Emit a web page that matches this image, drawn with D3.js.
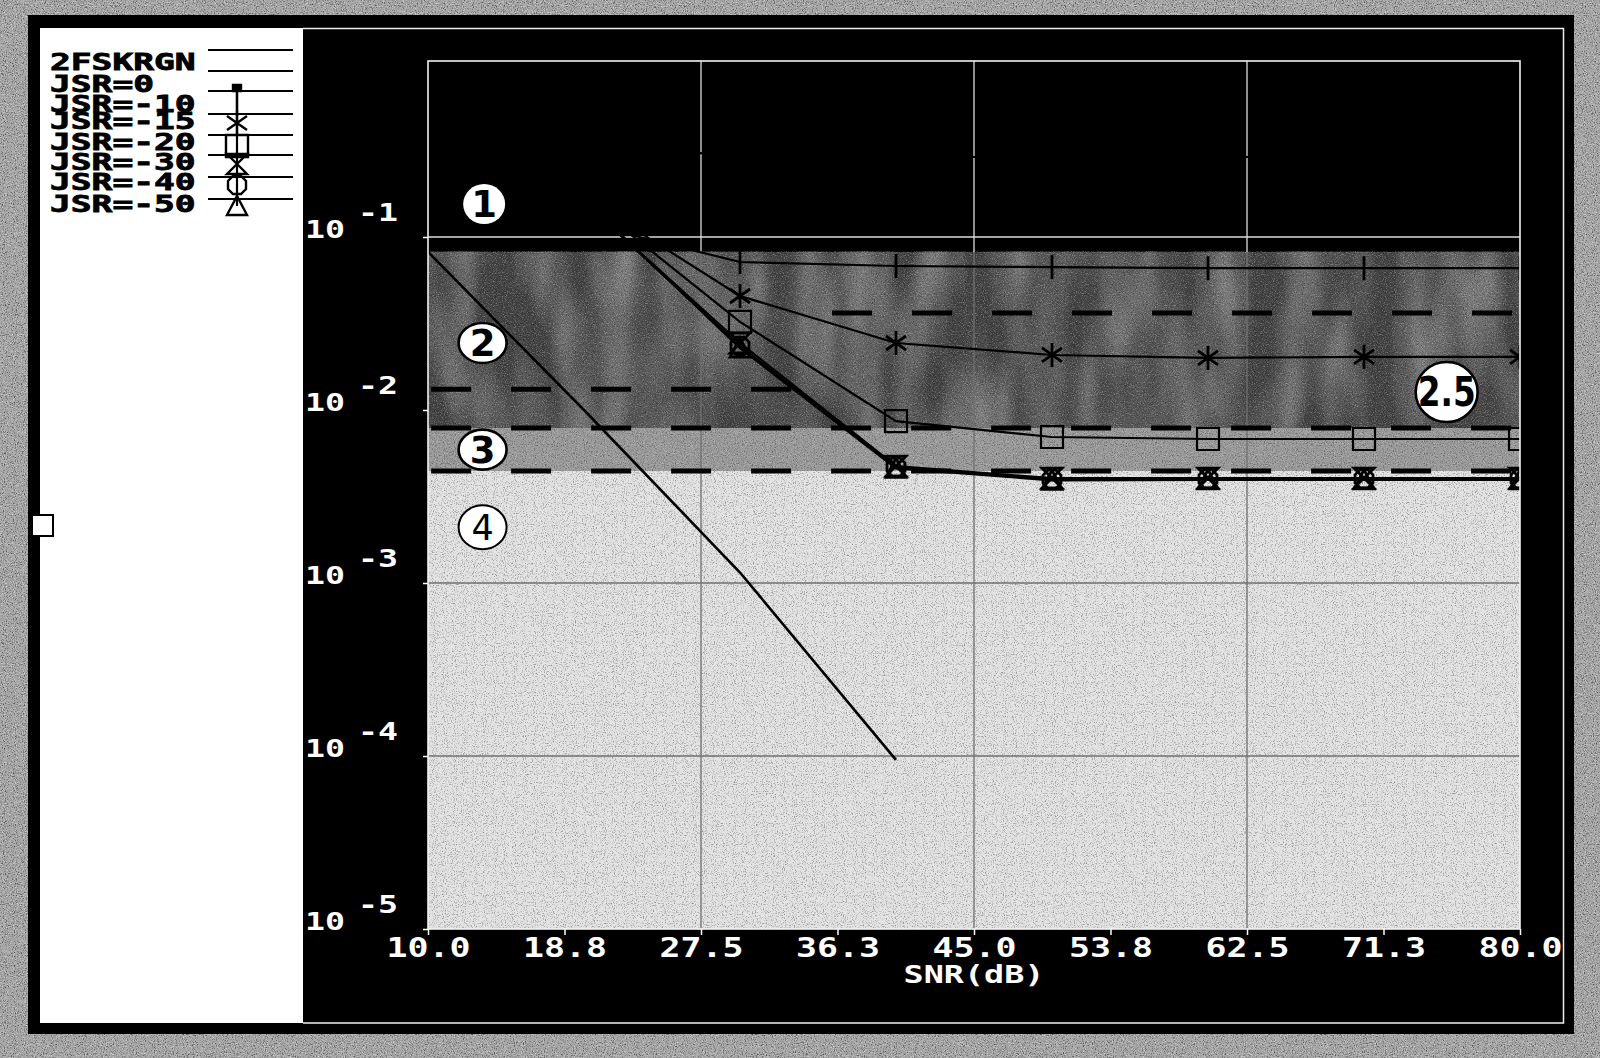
<!DOCTYPE html>
<html>
<head>
<meta charset="utf-8">
<script src="https://cdn.jsdelivr.net/npm/d3@7"></script>
<style>
html, body { margin: 0; padding: 0; background: #a6a6a6; }
svg { display: block; }
</style>
</head>
<body>
<script>
// ---- values ----
var snrTheory = [10, 20, 30, 40];
var berTheory = [0.082, 0.010, 0.00115, 0.000095];

var snrJam = [20, 30, 40, 50, 60, 70, 80];
var berJsr0  = [0.32, 0.30, 0.29, 0.29, 0.29, 0.29, 0.29];
var berJsr10 = [0.12, 0.0717, 0.068, 0.067, 0.066, 0.066, 0.066];
var berJsr15 = [0.17, 0.0456, 0.0244, 0.0208, 0.0200, 0.0203, 0.0203];
var berJsr20 = [0.17, 0.0323, 0.00863, 0.00698, 0.00680, 0.00680, 0.00680];
var berJsr30 = [0.16, 0.0244, 0.00474, 0.00404, 0.00404, 0.00404, 0.00404];
var berJsr40 = [0.16, 0.0234, 0.00468, 0.00398, 0.00400, 0.00400, 0.00400];
var berJsr50 = [0.165, 0.0228, 0.00460, 0.00392, 0.00395, 0.00395, 0.00395];

var legendNames = ["2FSKRGN", "JSR=0", "JSR=-10", "JSR=-15", "JSR=-20", "JSR=-30", "JSR=-40", "JSR=-50"];
var legendMarks = ["none", "dot", "bar", "star", "square", "hourglass", "diamond", "triangle"];

var xTicks = [10, 18.75, 27.5, 36.25, 45, 53.75, 62.5, 71.25, 80];
var xTickLabels = ["10.0", "18.8", "27.5", "36.3", "45.0", "53.8", "62.5", "71.3", "80.0"];
var yTicks = [1e-1, 1e-2, 1e-3, 1e-4, 1e-5];
var yTickExp = ["-1", "-2", "-3", "-4", "-5"];
var xGridVals = [27.5, 45, 62.5];
var yGridVals = [1e-1, 1e-3, 1e-4];

// shaded zones: edges between black / dark / mid / light
var bandEdges = [0.082, 0.00787, 0.00444];
var bandFills = ["#000", "#5c5c5c", "#9a9a9a", "#e4e4e4"];
var dashLevel = [0.0132, 0.0364, 0.00787, 0.00444];
var dashFrom  = [10.2, 35.9, 10.2, 10.2];
var dashTo    = [33.9, 80, 80, 80];

var zoneText = ["1", "2", "3", "4", "2.5"];
var zoneSnr  = [13.6, 13.5, 13.5, 13.5, 75.3];
var zoneBer  = [0.155, 0.0244, 0.0059, 0.0021, 0.0127];

// ---- layout ----
var W = 1600, H = 1058;
var plotL = 428, plotR = 1520, plotT = 61, plotB = 929;
var mono = "'DejaVu Sans Mono', monospace";

var svg = d3.select("body").append("svg").attr("width", W).attr("height", H);
var defs = svg.append("defs");

function noiseFilter(id, freq, seed, matrix) {
  var f = defs.append("filter").attr("id", id).attr("x", 0).attr("y", 0)
    .attr("width", 1).attr("height", 1).attr("color-interpolation-filters", "sRGB");
  f.append("feTurbulence").attr("type", "fractalNoise").attr("baseFrequency", freq)
    .attr("numOctaves", 2).attr("seed", seed);
  f.append("feColorMatrix").attr("type", "matrix").attr("values", matrix);
}
noiseFilter("darkSpeck", "0.9", 4, "0 0 0 0 0  0 0 0 0 0  0 0 0 0 0  3.2 0 0 0 -1.6");
noiseFilter("lightSpeck", "0.9", 7, "0 0 0 0 1  0 0 0 0 1  0 0 0 0 1  -3.2 0 0 0 1.6");
noiseFilter("streak", "0.025 0.008", 9, "1.8 0 0 0 -0.6  1.8 0 0 0 -0.6  1.8 0 0 0 -0.6  0 0 0 0 1");

// outer textured gray border
svg.append("rect").attr("width", W).attr("height", H).attr("fill", "#a6a6a6");
svg.append("rect").attr("width", W).attr("height", H).attr("filter", "url(#darkSpeck)").attr("opacity", 0.5);
svg.append("rect").attr("width", W).attr("height", H).attr("filter", "url(#lightSpeck)").attr("opacity", 0.5);

// black frame, white legend panel
svg.append("rect").attr("x", 28).attr("y", 15).attr("width", 1546).attr("height", 1019).attr("fill", "#000");
svg.append("rect").attr("x", 40).attr("y", 28).attr("width", 263).attr("height", 995).attr("fill", "#fff");
svg.append("path").attr("d", "M303,28.5H1563.5V1023H303").attr("fill", "none").attr("stroke", "#eee").attr("stroke-width", 1.5);
svg.append("rect").attr("x", 32).attr("y", 515).attr("width", 21).attr("height", 21)
  .attr("fill", "#fff").attr("stroke", "#000").attr("stroke-width", 2);

var x = d3.scaleLinear().domain([10, 80]).range([plotL, plotR]);
var y = d3.scaleLog().domain([1e-5, 1]).range([plotB, 64]);

// zone backgrounds
var plot = svg.append("g");
var yEdges = [plotT].concat(bandEdges.map(y)).concat([plotB]);
plot.selectAll("rect.band").data(bandFills).join("rect").attr("class", "band")
  .attr("x", plotL).attr("width", plotR - plotL)
  .attr("y", function(d, i) { return yEdges[i]; })
  .attr("height", function(d, i) { return yEdges[i + 1] - yEdges[i]; })
  .attr("fill", function(d) { return d; });
// texture over the grey zones
plot.append("rect").attr("x", plotL).attr("width", plotR - plotL)
  .attr("y", yEdges[1]).attr("height", yEdges[2] - yEdges[1])
  .attr("filter", "url(#streak)").attr("opacity", 0.28);
plot.append("rect").attr("x", plotL).attr("width", plotR - plotL)
  .attr("y", yEdges[1]).attr("height", plotB - yEdges[1])
  .attr("filter", "url(#darkSpeck)").attr("opacity", 0.35);
plot.append("rect").attr("x", plotL).attr("width", plotR - plotL)
  .attr("y", yEdges[1]).attr("height", yEdges[3] - yEdges[1])
  .attr("filter", "url(#lightSpeck)").attr("opacity", 0.3);

// grid
plot.selectAll("line.vg").data(xGridVals).join("line").attr("class", "vg")
  .attr("x1", x).attr("x2", x).attr("y1", yEdges[1]).attr("y2", plotB)
  .attr("stroke", "#707070").attr("stroke-width", 1.3);
plot.selectAll("line.vgw").data(xGridVals).join("line").attr("class", "vgw")
  .attr("x1", x).attr("x2", x).attr("y1", plotT).attr("y2", yEdges[1])
  .attr("stroke", "#ddd").attr("stroke-width", 1.3);
plot.selectAll("line.hg").data(yGridVals).join("line").attr("class", "hg")
  .attr("x1", plotL).attr("x2", plotR).attr("y1", y).attr("y2", y)
  .attr("stroke", function(d) { return d > bandEdges[0] ? "#ddd" : "#707070"; })
  .attr("stroke-width", 1.3);

// dashed zone boundaries
plot.selectAll("line.dash").data(dashLevel).join("line").attr("class", "dash")
  .attr("x1", function(d, i) { return x(dashFrom[i]); })
  .attr("x2", function(d, i) { return x(dashTo[i]); })
  .attr("y1", y).attr("y2", y)
  .attr("stroke", "#000").attr("stroke-width", 5).attr("stroke-dasharray", "40 40");

// marker shapes
function markPath(kind) {
  switch (kind) {
    case "dot": return "M-4,-3H4V3H-4Z";
    case "bar": return "M0,-12V12";
    case "star": return "M0,-12V12M-10,-7L10,7M-10,7L10,-7";
    case "square": return "M-11,-11H11V11H-11Z";
    case "hourglass": return "M-10,-10H10L-10,10H10Z";
    case "diamond": return "M-4,-9L4,-9L9,-4L9,4L4,9L-4,9L-9,4L-9,-4Z";
    case "triangle": return "M0,-10L10,9L-10,9Z";
  }
  return "";
}

var line = d3.line().x(function(d) { return x(d[0]); }).y(function(d) { return y(d[1]); });

// theory curve
plot.append("path").datum(d3.zip(snrTheory, berTheory)).attr("d", line)
  .attr("fill", "none").attr("stroke", "#000").attr("stroke-width", 2.6);

var jamSeries = [berJsr0, berJsr10, berJsr15, berJsr20, berJsr30, berJsr40, berJsr50];
jamSeries.forEach(function(vals, k) {
  var pts = d3.zip(snrJam, vals);
  plot.append("path").datum(pts).attr("d", line)
    .attr("fill", "none").attr("stroke", "#000").attr("stroke-width", 2.2);
  var kind = legendMarks[k + 1];
  plot.selectAll(null).data(pts).join("path")
    .attr("transform", function(d) { return "translate(" + x(d[0]) + "," + y(d[1]) + ")"; })
    .attr("d", markPath(kind))
    .attr("fill", kind === "dot" ? "#000" : "none")
    .attr("stroke", "#000").attr("stroke-width", kind === "square" ? 2.2 : 2.8);
});

// zone labels
var zones = svg.append("g");
zoneText.forEach(function(t, i) {
  var cx = x(zoneSnr[i]), cy = y(zoneBer[i]);
  var big = t === "2.5";
  var rx = big ? 31 : (i === 0 ? 21 : 24), ry = big ? 30 : (i === 3 ? 22 : 20);
  zones.append("ellipse").attr("cx", cx).attr("cy", cy).attr("rx", rx).attr("ry", ry)
    .attr("fill", "#fff").attr("stroke", i === 0 ? "none" : "#000").attr("stroke-width", i === 3 ? 2 : 2.6);
  var txt = zones.append("text").attr("x", cx).attr("y", cy + (big ? 14 : 13))
    .attr("text-anchor", "middle").attr("font-family", "'DejaVu Sans', sans-serif")
    .attr("font-weight", i === 3 ? "normal" : "bold")
    .attr("font-size", big ? 40 : (i === 3 ? 35 : 37)).attr("fill", "#000").text(t);
  if (big) txt.attr("textLength", 58).attr("lengthAdjust", "spacingAndGlyphs");
});

// plot frame
svg.append("rect").attr("x", plotL).attr("y", plotT).attr("width", plotR - plotL).attr("height", plotB - plotT)
  .attr("fill", "none").attr("stroke", "#f2f2f2").attr("stroke-width", 1.6);

// x axis
var xAxis = d3.axisBottom(x).tickValues(xTicks).tickSize(6).tickFormat(function(d, i) { return xTickLabels[i]; });
var gx = svg.append("g").attr("transform", "translate(0," + plotB + ")").call(xAxis);
gx.select(".domain").remove();
gx.selectAll(".tick line").attr("stroke", "#fff").attr("stroke-width", 1.5);
gx.selectAll(".tick text").attr("y", 28).attr("dy", 0).attr("fill", "#fff")
  .attr("font-family", mono).attr("font-weight", "bold").attr("font-size", 26)
  .attr("textLength", function(d, i) { return xTickLabels[i].length * 21; })
  .attr("lengthAdjust", "spacingAndGlyphs");
svg.append("text").attr("x", x(45)).attr("y", 983).attr("text-anchor", "middle")
  .attr("fill", "#fff").attr("font-family", mono).attr("font-weight", "bold").attr("font-size", 25)
  .attr("textLength", 141).attr("lengthAdjust", "spacingAndGlyphs").text("SNR(dB)");

// y axis
var yAxis = d3.axisLeft(y).tickValues(yTicks).tickSize(5).tickFormat("");
var gy = svg.append("g").attr("transform", "translate(" + plotL + ",0)").call(yAxis);
gy.select(".domain").remove();
gy.selectAll(".tick line").attr("stroke", "#fff").attr("stroke-width", 1.5);
var ylab = svg.append("g").attr("fill", "#fff").attr("font-family", mono).attr("font-weight", "bold");
ylab.selectAll("text.base").data(yTicks).join("text").attr("class", "base")
  .attr("x", 305).attr("y", function(d) { return y(d) + 1; })
  .attr("font-size", 24).attr("textLength", 40).attr("lengthAdjust", "spacingAndGlyphs").text("10");
ylab.selectAll("text.exp").data(yTicks).join("text").attr("class", "exp")
  .attr("x", 358).attr("y", function(d) { return y(d) - 16; })
  .attr("font-size", 24).attr("textLength", 40).attr("lengthAdjust", "spacingAndGlyphs")
  .text(function(d, i) { return yTickExp[i]; });

// legend
var rowText = [70, 92, 112, 129, 150, 170, 190, 212];
var rowLine = [50, 71, 91, 114, 135, 155, 177, 199];
var rowMark = [62, 88, 104, 123, 146, 164, 185, 206];
var leg = svg.append("g");
leg.selectAll("line.ll").data(legendNames).join("line").attr("class", "ll")
  .attr("x1", 208).attr("x2", 293)
  .attr("y1", function(d, i) { return rowLine[i]; }).attr("y2", function(d, i) { return rowLine[i]; })
  .attr("stroke", "#000").attr("stroke-width", 2.2);
leg.append("line").attr("x1", 237).attr("x2", 237).attr("y1", rowMark[1]).attr("y2", rowMark[7])
  .attr("stroke", "#000").attr("stroke-width", 2.2);
leg.selectAll("path.lm").data(legendMarks).join("path").attr("class", "lm")
  .attr("transform", function(d, i) { return "translate(237," + rowMark[i] + ")"; })
  .attr("d", function(d) { return markPath(d); })
  .attr("fill", function(d) { return d === "dot" ? "#000" : "none"; })
  .attr("stroke", "#000").attr("stroke-width", 2.4);
leg.selectAll("text").data(legendNames).join("text")
  .attr("x", 50).attr("y", function(d, i) { return rowText[i]; })
  .attr("font-family", mono).attr("font-weight", "bold").attr("font-size", 23).attr("fill", "#000")
  .attr("stroke", "#000").attr("stroke-width", 0.8)
  .attr("textLength", function(d) { return d.length * 20.8; })
  .attr("lengthAdjust", "spacingAndGlyphs")
  .text(function(d) { return d; });
</script>
</body>
</html>
